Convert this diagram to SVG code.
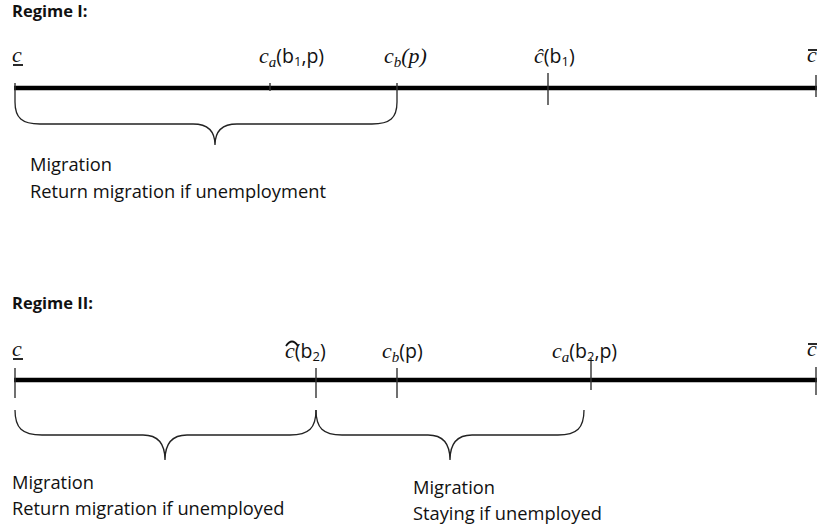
<svg xmlns="http://www.w3.org/2000/svg" width="817" height="531" viewBox="0 0 817 531">
<style>
.t{font-family:"Open Sans",Lato,"Liberation Sans",sans-serif;font-size:18.3px;fill:#111}
.h{font-family:"Open Sans",Lato,"Liberation Sans",sans-serif;font-size:16.5px;font-weight:bold;fill:#111}
.m{font-family:"Liberation Serif",serif;font-style:italic;font-size:22px;fill:#111}
.ms{font-family:"Liberation Serif",serif;font-style:italic;font-size:15px;fill:#111}
.s{font-family:"Open Sans",Lato,"Liberation Sans",sans-serif;font-style:normal;font-size:19.5px;fill:#111}
.ss{font-family:"Open Sans",Lato,"Liberation Sans",sans-serif;font-style:normal;font-size:13px;fill:#111}
.axis{stroke:#000;stroke-width:4.5;fill:none}
.tick{stroke:#333;stroke-width:1.4;fill:none}
.brace{stroke:#222;stroke-width:1.3;fill:none}
.bar{stroke:#111;stroke-width:1.8;fill:none}
</style>
<rect width="817" height="531" fill="#fff"/>
<g id="regime1">
<text class="h" x="12" y="17">Regime I:</text>
<g id="r1-axis">
<line class="axis" x1="14" y1="88" x2="817" y2="88"/>
</g>
<g id="r1-cmin">
<line class="tick" x1="15" y1="83" x2="15" y2="102"/>
<text class="m" x="12" y="62">c</text>
<line class="bar" x1="13" y1="65" x2="23" y2="65"/>
</g>
<g id="r1-ca">
<line class="tick" x1="270" y1="83" x2="270" y2="91"/>
<text x="259" y="63"><tspan class="m">c</tspan><tspan class="ms" dy="4">a</tspan><tspan class="s" dy="-4">(b</tspan><tspan class="ss" dy="3">1</tspan><tspan class="s" dy="-3">,p)</tspan></text>
</g>
<g id="r1-cb">
<line class="tick" x1="397" y1="83" x2="397" y2="102"/>
<text x="384" y="63"><tspan class="m">c</tspan><tspan class="ms" dy="4">b</tspan><tspan class="m" dy="-4">(p)</tspan></text>
</g>
<g id="r1-chat">
<line class="tick" x1="548" y1="73" x2="548" y2="105"/>
<text x="534" y="63"><tspan class="m">ĉ</tspan><tspan class="s">(b</tspan><tspan class="ss" dy="3">1</tspan><tspan class="s" dy="-3">)</tspan></text>
</g>
<g id="r1-cmax">
<line class="tick" x1="816" y1="75" x2="816" y2="97"/>
<text class="m" x="807" y="62">c</text>
<line class="bar" x1="808" y1="50" x2="818" y2="50"/>
</g>
<g id="r1-brace">
<path class="brace" d="M15 102 C15 118 22 124 40 124 L193 124 C207 124 215 131 215 145 C215 131 223 124 237 124 L372 124 C390 124 397 118 397 102"/>
<text class="t" x="30" y="171">Migration</text>
<text class="t" x="30" y="198">Return migration if unemployment</text>
</g>
</g>
<g id="regime2">
<text class="h" x="12" y="309">Regime II:</text>
<g id="r2-axis">
<line class="axis" x1="14" y1="380" x2="817" y2="380"/>
</g>
<g id="r2-cmin">
<line class="tick" x1="15" y1="368" x2="15" y2="398"/>
<text class="m" x="12" y="356">c</text>
<line class="bar" x1="13" y1="359" x2="23" y2="359"/>
</g>
<g id="r2-chat">
<line class="tick" x1="316" y1="368" x2="316" y2="398"/>
<path class="bar" d="M286 346 Q292 337 298 346" stroke-width="1.2"/>
<text x="285" y="358"><tspan class="m">c</tspan><tspan class="s">(b</tspan><tspan class="ss" dy="3">2</tspan><tspan class="s" dy="-3">)</tspan></text>
</g>
<g id="r2-cb">
<line class="tick" x1="397" y1="368" x2="397" y2="398"/>
<text x="382" y="358"><tspan class="m">c</tspan><tspan class="ms" dy="4">b</tspan><tspan class="s" dy="-4">(p)</tspan></text>
</g>
<g id="r2-ca">
<line class="tick" x1="591" y1="358" x2="591" y2="390"/>
<text x="552" y="358"><tspan class="m">c</tspan><tspan class="ms" dy="4">a</tspan><tspan class="s" dy="-4">(b</tspan><tspan class="ss" dy="3">2</tspan><tspan class="s" dy="-3">,p)</tspan></text>
</g>
<g id="r2-cmax">
<line class="tick" x1="816" y1="367" x2="816" y2="395"/>
<text class="m" x="807" y="356">c</text>
<line class="bar" x1="808" y1="344" x2="818" y2="344"/>
</g>
<g id="r2-brace1">
<path class="brace" d="M15 410 C15 428 22 435 42 435 L143 435 C157 435 165 443 165 460 C165 443 173 435 187 435 L290 435 C309 435 316 428 316 410"/>
<text class="t" x="12" y="489">Migration</text>
<text class="t" x="12" y="515">Return migration if unemployed</text>
</g>
<g id="r2-brace2">
<path class="brace" d="M316 410 C316 428 323 435 342 435 L428 435 C442 435 450 443 450 460 C450 443 458 435 472 435 L558 435 C577 435 584 428 584 410"/>
<text class="t" x="413" y="494">Migration</text>
<text class="t" x="413" y="520">Staying if unemployed</text>
</g>
</g>
</svg>
